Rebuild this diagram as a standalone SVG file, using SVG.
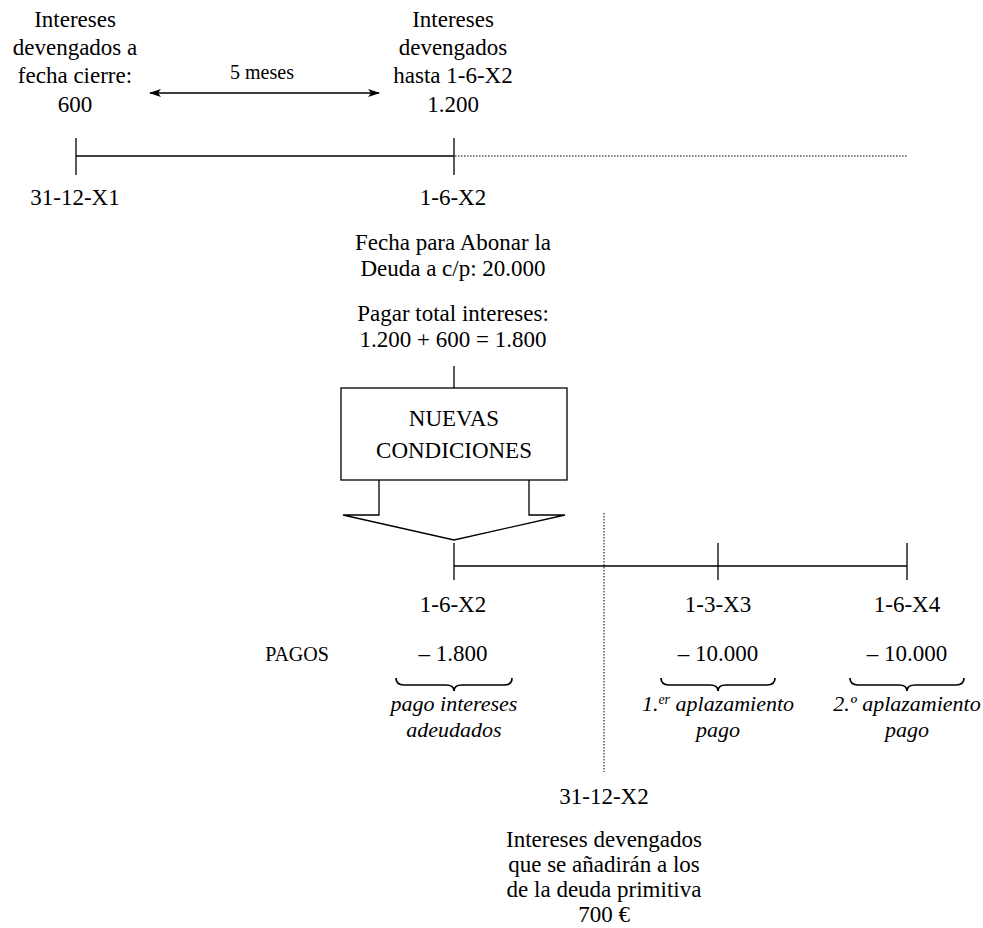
<svg xmlns="http://www.w3.org/2000/svg" width="983" height="928" viewBox="0 0 983 928">
<style>
.t{font-size:23px;fill:#000;text-anchor:middle}
.s{font-size:20px;fill:#000;text-anchor:middle}
.i{font-size:22px;font-style:italic;fill:#000;text-anchor:middle}
.ln{stroke:#000;stroke-width:1.3;fill:none}
.dot{stroke:#000;stroke-width:1;stroke-dasharray:1.5 1.5;fill:none}
.br{stroke:#000;stroke-width:1.7;fill:none}
</style>
<defs>
<marker id="ah" viewBox="0 0 12 8" refX="11" refY="4" markerWidth="12" markerHeight="8" orient="auto-start-reverse" markerUnits="userSpaceOnUse">
<path d="M0,0 L12,4 L0,8 L3,4 Z" fill="#000"/>
</marker>
</defs>
<g id="connectors">
<line class="ln" x1="150" y1="93" x2="379" y2="93" marker-start="url(#ah)" marker-end="url(#ah)"/>
<line class="ln" x1="76" y1="156" x2="454" y2="156"/>
<line class="ln" x1="76" y1="138" x2="76" y2="175"/>
<line class="ln" x1="454" y1="138" x2="454" y2="175"/>
<line class="dot" x1="455" y1="156" x2="908" y2="156"/>
<line class="ln" x1="454" y1="366" x2="454" y2="388"/>
<line class="ln" x1="454" y1="566" x2="907" y2="566"/>
<line class="ln" x1="454" y1="543" x2="454" y2="580"/>
<line class="ln" x1="718" y1="543" x2="718" y2="580"/>
<line class="ln" x1="907" y1="543" x2="907" y2="580"/>
<line class="dot" x1="604" y1="513" x2="604" y2="772"/>
</g>
<g id="n-cierre">
<text class="t" font-family="Liberation Serif" x="75" y="27">Intereses</text>
<text class="t" font-family="Liberation Serif" x="75" y="55">devengados a</text>
<text class="t" font-family="Liberation Serif" x="75" y="83">fecha cierre:</text>
<text class="t" font-family="Liberation Serif" x="75" y="112">600</text>
</g>
<g id="n-5meses"><text class="s" font-family="Liberation Serif" x="262" y="79">5 meses</text></g>
<g id="n-hasta">
<text class="t" font-family="Liberation Serif" x="453" y="27">Intereses</text>
<text class="t" font-family="Liberation Serif" x="453" y="55">devengados</text>
<text class="t" font-family="Liberation Serif" x="453" y="83">hasta 1-6-X2</text>
<text class="t" font-family="Liberation Serif" x="453" y="112">1.200</text>
</g>
<g id="n-d1"><text class="t" font-family="Liberation Serif" x="75" y="205">31-12-X1</text></g>
<g id="n-d2">
<text class="t" font-family="Liberation Serif" x="453" y="205">1-6-X2</text>
<text class="t" font-family="Liberation Serif" x="453" y="250">Fecha para Abonar la</text>
<text class="t" font-family="Liberation Serif" x="453" y="276">Deuda a c/p: 20.000</text>
<text class="t" font-family="Liberation Serif" x="453" y="321">Pagar total intereses:</text>
<text class="t" font-family="Liberation Serif" x="453" y="347">1.200 + 600 = 1.800</text>
</g>
<g id="n-nuevas">
<rect class="ln" x="341" y="388" width="226" height="92" fill="#fff"/>
<text class="t" font-family="Liberation Serif" x="454" y="426">NUEVAS</text>
<text class="t" font-family="Liberation Serif" x="454" y="458">CONDICIONES</text>
</g>
<g id="n-arrow">
<path class="ln" d="M379,480 L379,515 L343,515 L454,540 L565,515 L529,515 L529,480"/>
</g>
<g id="n-p1">
<text class="t" font-family="Liberation Serif" x="453" y="612">1-6-X2</text>
<text class="t" font-family="Liberation Serif" x="453" y="661">– 1.800</text>
<path class="br" d="M396,678 Q396,685 404,685 L446,685 Q454,685 454,691 Q454,685 462,685 L504,685 Q512,685 512,678"/>
<text class="i" font-family="Liberation Serif" x="454" y="711">pago intereses</text>
<text class="i" font-family="Liberation Serif" x="454" y="737">adeudados</text>
</g>
<g id="n-pagos"><text class="s" font-family="Liberation Serif" x="297" y="661">PAGOS</text></g>
<g id="n-p2">
<text class="t" font-family="Liberation Serif" x="718" y="612">1-3-X3</text>
<text class="t" font-family="Liberation Serif" x="718" y="661">– 10.000</text>
<path class="br" d="M661,678 Q661,685 669,685 L710,685 Q718,685 718,691 Q718,685 726,685 L767,685 Q775,685 775,678"/>
<text class="i" font-family="Liberation Serif" x="718" y="711">1.<tspan font-size="14" dy="-7">er</tspan><tspan dy="7"> aplazamiento</tspan></text>
<text class="i" font-family="Liberation Serif" x="718" y="737">pago</text>
</g>
<g id="n-p3">
<text class="t" font-family="Liberation Serif" x="907" y="612">1-6-X4</text>
<text class="t" font-family="Liberation Serif" x="907" y="661">– 10.000</text>
<path class="br" d="M850,678 Q850,685 858,685 L899,685 Q907,685 907,691 Q907,685 915,685 L956,685 Q964,685 964,678"/>
<text class="i" font-family="Liberation Serif" x="907" y="711">2.º aplazamiento</text>
<text class="i" font-family="Liberation Serif" x="907" y="737">pago</text>
</g>
<g id="n-x2">
<text class="t" font-family="Liberation Serif" x="604" y="804">31-12-X2</text>
<text class="t" font-family="Liberation Serif" x="604" y="847">Intereses devengados</text>
<text class="t" font-family="Liberation Serif" x="604" y="872">que se añadirán a los</text>
<text class="t" font-family="Liberation Serif" x="604" y="897">de la deuda primitiva</text>
<text class="t" font-family="Liberation Serif" x="604" y="922">700 €</text>
</g>
</svg>
